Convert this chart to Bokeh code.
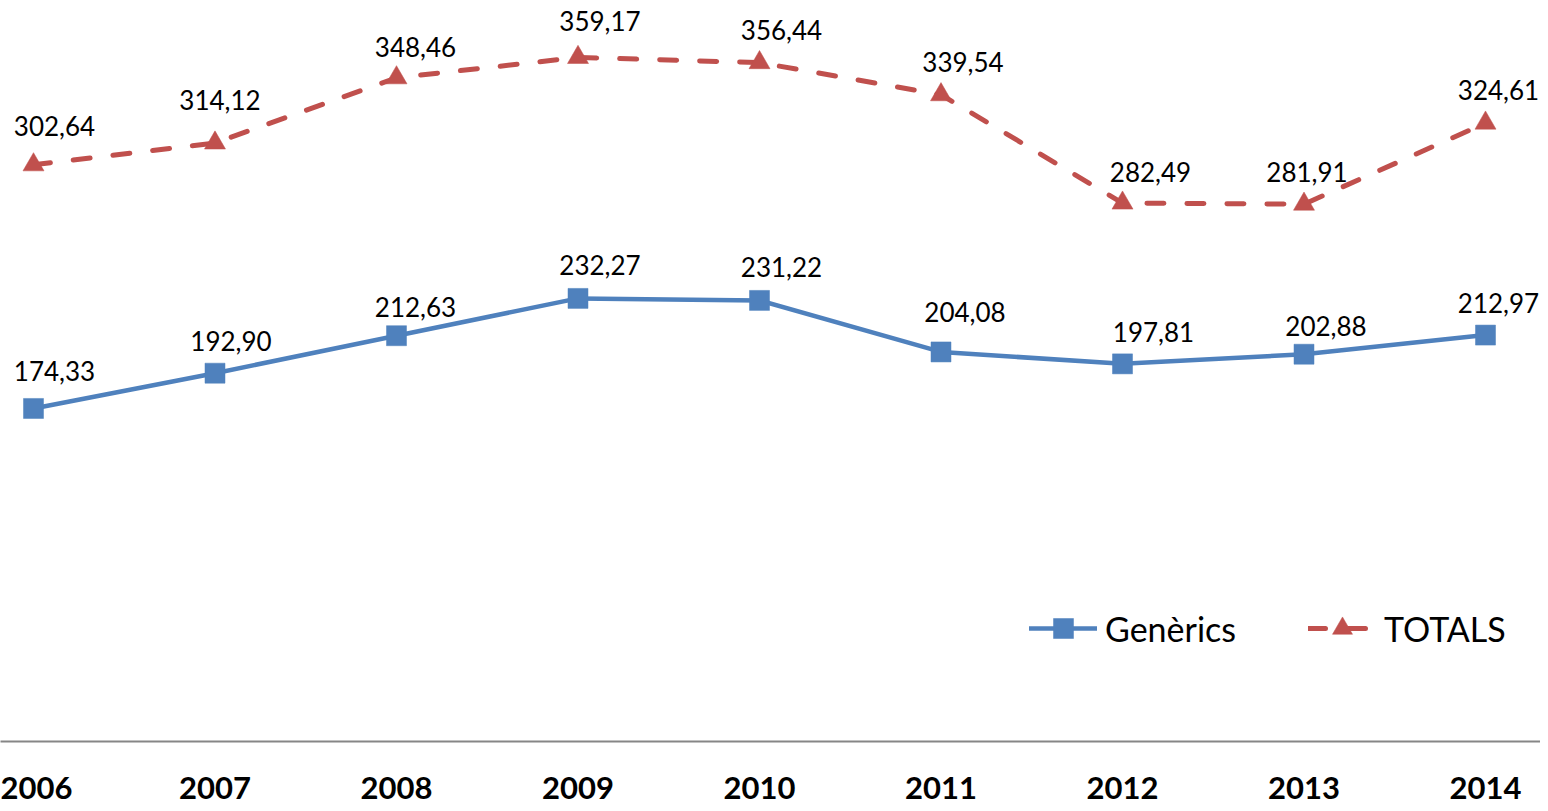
from bokeh.plotting import figure
from bokeh.models import Range1d, FixedTicker, Legend, LegendItem, Label, ColumnDataSource
from bokeh.core.properties import value
from bokeh.embed import file_html
from bokeh.resources import INLINE

# ---- data ----
years = [2006, 2007, 2008, 2009, 2010, 2011, 2012, 2013, 2014]
year_labels = ["2006", "2007", "2008", "2009", "2010", "2011", "2012", "2013", "2014"]
generics = [174.33, 192.90, 212.63, 232.27, 231.22, 204.08, 197.81, 202.88, 212.97]
totals = [302.64, 314.12, 348.46, 359.17, 356.44, 339.54, 282.49, 281.91, 324.61]
series_names = ["Genèrics", "TOTALS"]
page_number = "46"

# ---- label placement (style, screen px) ----
gen_label_dx = [21, 16, 19, 22, 22, 24, 31, 22, 13]
gen_label_dy = [-37, -32, -29, -33, -33, -40, -32, -28, -32]
tot_label_dx = [21, 5, 19, 22, 22, 22, 28, 3, 13]
tot_label_dy = [-39, -43, -31, -36, -33, -33, -31, -32, -33]

BLUE = "#4F81BD"
RED = "#C0504D"
FONT = "Lato"

p = figure(frame_width=1540, frame_height=741, min_border=0,
           x_range=Range1d(2005.8182, 2014.3030), y_range=Range1d(-1.05, 389.15),
           output_backend="svg", toolbar_location=None, y_axis_location=None)
p.outline_line_color = None
p.xgrid.visible = False
p.ygrid.visible = False
p.background_fill_color = "white"
p.border_fill_color = "white"

ax = p.xaxis[0]
ax.ticker = FixedTicker(ticks=years)
ax.major_label_overrides = {y: l for y, l in zip(years, year_labels)}
ax.axis_line_color = "#868686"
ax.axis_line_width = 2
ax.major_tick_line_color = None
ax.minor_tick_line_color = None
ax.major_label_text_font = FONT
ax.major_label_text_font_style = "bold"
ax.major_label_text_font_size = "31px"
ax.major_label_text_color = "black"
ax.major_label_standoff = 29


def fmt(v):
    return f"{v:.2f}".replace(".", ",")


src_b = ColumnDataSource(dict(x=years, y=generics, t=[fmt(v) for v in generics],
                              xo=gen_label_dx, yo=gen_label_dy))
src_r = ColumnDataSource(dict(x=years, y=totals, t=[fmt(v) for v in totals],
                              xo=tot_label_dx, yo=tot_label_dy))

lr = p.line("x", "y", source=src_r, line_color=RED, line_width=5,
            line_dash="17 23", line_cap="round", line_join="round")
sr = p.scatter("x", "y", source=src_r, marker="triangle", size=21,
               fill_color=RED, line_color=RED, line_width=0.5)
lb = p.line("x", "y", source=src_b, line_color=BLUE, line_width=4.5,
            line_cap="round", line_join="round")
sb = p.scatter("x", "y", source=src_b, marker="square", size=20,
               fill_color=BLUE, line_color=BLUE, line_width=0.5)

for src in (src_b, src_r):
    p.text("x", "y", text="t", source=src, x_offset="xo", y_offset="yo",
           text_align="center", text_baseline="middle",
           text_font=value(FONT), text_font_size="26px", text_color="black")

legend = Legend(items=[LegendItem(label=series_names[0], renderers=[lb, sb]),
                       LegendItem(label=series_names[1], renderers=[lr, sr])],
                location=(1029, 88), orientation="horizontal",
                glyph_width=68, glyph_height=50, label_height=50,
                label_standoff=8, spacing=72, padding=0, margin=0,
                border_line_color=None, background_fill_alpha=0,
                label_text_font=FONT, label_text_font_size="34px",
                label_text_color="black")
p.add_layout(legend, "center")

p.add_layout(Label(x=years[-1] + 0.02, y=-30.5, x_units="data", y_units="data",
                   text=page_number, text_font=FONT, text_font_size="22px",
                   text_align="center", text_baseline="top", text_color="#222222"))

open("out.html", "w").write(file_html(p, INLINE))
